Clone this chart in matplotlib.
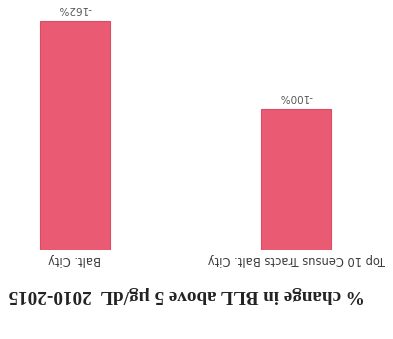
import matplotlib
matplotlib.use("Agg")
import matplotlib.pyplot as plt

# Data (chart is shown rotated 180 degrees in the reference)
categories = ["Top 10 Census Tracts Balt. City", "Balt. City"]
values = [-100, -162]
value_labels = ["-100%", "-162%"]
title = "% change in BLL above 5 \u00b5g/dL  2010-2015"

fig = plt.figure(figsize=(3.93, 3.39), dpi=100)
fig.patch.set_facecolor("white")
ax = fig.add_axes([0.0, 0.2625, 1.0, 0.7375])
ax.set_facecolor("white")

pos = list(range(len(categories)))
ax.bar(pos, values, width=0.317, color="#EA5A72", edgecolor="#DA4C64", linewidth=0.8)

ax.set_xlim(1.339, -0.439)
ax.set_ylim(0, -177)

ax.set_xticks(pos)
ax.set_xticklabels(categories, rotation=180, fontsize=8.3, color="#3a3a3a",
                   family="DejaVu Sans")
ax.tick_params(axis="x", length=0, pad=2)
ax.set_yticks([])
for s in ax.spines.values():
    s.set_visible(False)

for p, v, lab in zip(pos, values, value_labels):
    ax.annotate(lab, (p, v), xytext=(0, 5), textcoords="offset points",
                ha="center", va="bottom", rotation=180, fontsize=7.5,
                color="#555555", clip_on=False)

fig.text(0.474, (339 - 294) / 339, title, rotation=180, ha="center", va="center",
         fontsize=13.8, fontweight="bold", family="Liberation Serif", color="#222222")

fig.savefig("out.png", dpi=100, facecolor="white")
